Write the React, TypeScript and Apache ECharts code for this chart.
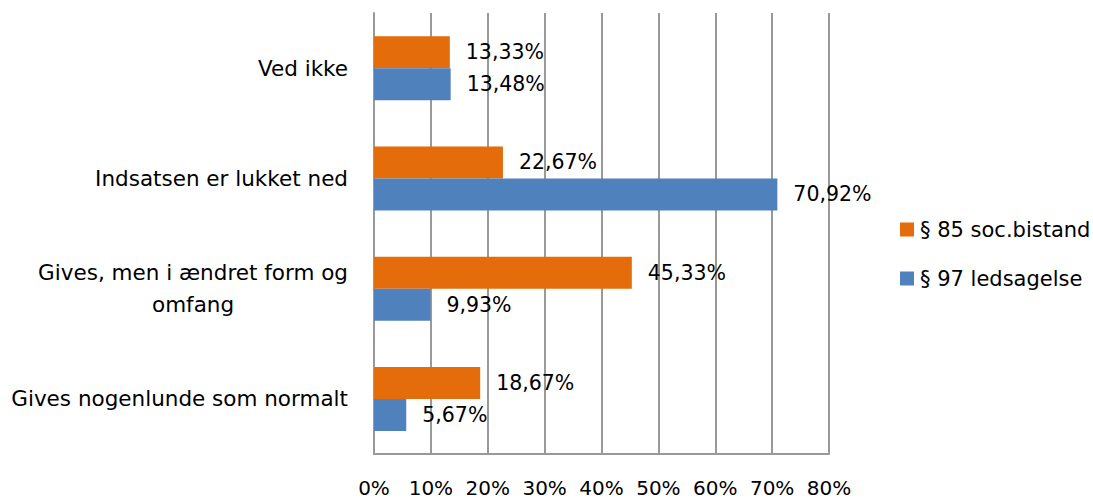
import React, { useEffect, useRef } from "react";
import * as echarts from "echarts";

const categories = [
  "Gives nogenlunde som normalt",
  "Gives, men i ændret form og omfang",
  "Indsatsen er lukket ned",
  "Ved ikke",
];
const seriesNames = ["§ 85 soc.bistand", "§ 97 ledsagelse"];
const soc85 = [18.67, 45.33, 22.67, 13.33];
const led97 = [5.67, 9.93, 70.92, 13.48];
const colors = ["#E46C0A", "#4F81BD"];

const FONT = "DejaVu Sans";

function wrap(text: string, max: number): string[] {
  const words = text.split(" ");
  const lines: string[] = [];
  let cur = "";
  for (const w of words) {
    const next = cur ? cur + " " + w : w;
    if (next.length > max && cur) {
      lines.push(cur);
      cur = w;
    } else cur = next;
  }
  if (cur) lines.push(cur);
  return lines;
}

const fmt = (v: number) => v.toFixed(2).replace(".", ",") + "%";

export default function App() {
  const ref = useRef<HTMLDivElement>(null);
  useEffect(() => {
    if (!ref.current) return;
    const chart = echarts.init(ref.current, null, { renderer: "svg" });
    const gridColor = "#999999";
    chart.setOption({
      animation: false,
      textStyle: { fontFamily: FONT, color: "#000" },
      grid: { left: 374, right: 264, top: 13, bottom: 45, containLabel: false },
      legend: {
        orient: "vertical",
        left: 895,
        top: 214,
        itemWidth: 14,
        itemHeight: 14,
        itemGap: 28,
        icon: "rect",
        textStyle: { fontFamily: FONT, fontSize: 21, color: "#000", lineHeight: 20, padding: [0, 0, 0, 1] },
        data: seriesNames,
      },
      xAxis: {
        type: "value",
        min: 0,
        max: 80,
        interval: 10,
        axisLine: { show: true, lineStyle: { color: gridColor, width: 2 } },
        axisTick: { show: false },
        splitLine: { show: true, lineStyle: { color: gridColor, width: 2 } },
        axisLabel: { formatter: "{value}%", margin: 24, fontSize: 20, color: "#000", fontFamily: FONT },
      },
      yAxis: {
        type: "category",
        data: categories,
        axisLine: { show: true, lineStyle: { color: gridColor, width: 2 } },
        axisTick: { show: false },
        axisLabel: {
          margin: 26,
          color: "#000",
          fontFamily: FONT,
          fontSize: 21.5,
          formatter: (v: string) => wrap(v, 28).map((l) => `{c|${l}}`).join("\n"),
          rich: { c: { align: "center", fontSize: 21.5, lineHeight: 32, fontFamily: FONT, color: "#000" } },
        },
      },
      series: [soc85, led97].map((d, i) => ({
        name: seriesNames[i],
        type: "bar",
        data: d,
        barWidth: 32,
        barGap: "0%",
        itemStyle: { color: colors[i] },
        label: {
          show: true,
          position: "right",
          distance: 16,
          fontSize: 20.5,
          fontFamily: FONT,
          color: "#000",
          formatter: (p: any) => fmt(p.value),
        },
      })),
    });
    return () => chart.dispose();
  }, []);
  return (
    <div
      ref={ref}
      style={{ position: "absolute", left: 0, top: 0, width: 1093, height: 499, background: "#fff" }}
    />
  );
}
